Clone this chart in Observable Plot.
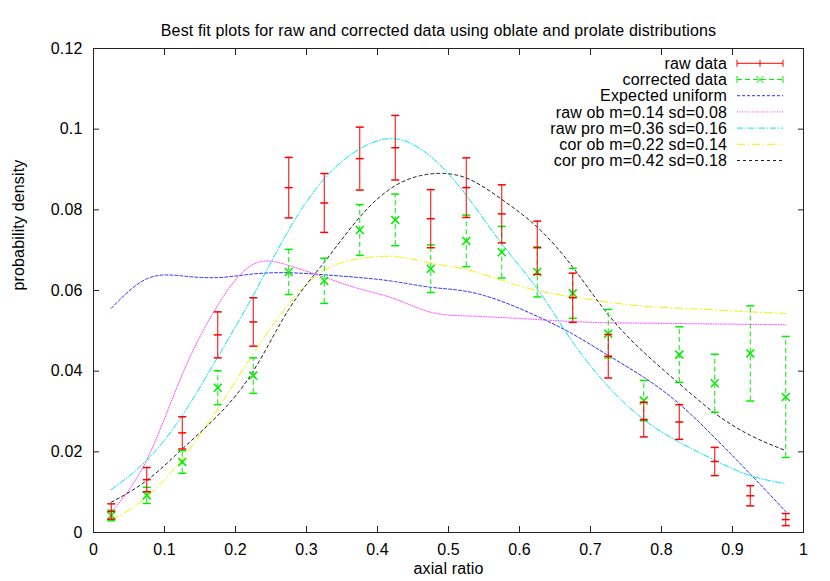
<!DOCTYPE html>
<html><head><meta charset="utf-8">
<script src="https://cdn.jsdelivr.net/npm/d3@7"></script>
<script src="https://cdn.jsdelivr.net/npm/@observablehq/plot@0.6"></script>
<style>
body{margin:0;background:#fff;}
#chart{position:relative;width:830px;height:581px;font-family:"Liberation Sans",Arial,sans-serif;}
#chart svg text{letter-spacing:0.15px;}
#chart svg.legend{position:absolute;left:0;top:0;pointer-events:none;}
</style></head><body><div id="chart"></div>
<script>
const titleText = "Best fit plots for raw and corrected data using oblate and prolate distributions";
const xLabel = "axial ratio";
const yLabel = "probability density";
const xTicks = [0, 0.1, 0.2, 0.3, 0.4, 0.5, 0.6, 0.7, 0.8, 0.9, 1];
const yTicks = [0, 0.02, 0.04, 0.06, 0.08, 0.1, 0.12];

const binCenters = [0.025, 0.075, 0.125, 0.175, 0.225, 0.275, 0.325, 0.375, 0.425, 0.475,
                    0.525, 0.575, 0.625, 0.675, 0.725, 0.775, 0.825, 0.875, 0.925, 0.975];

const rawData = [0.0052, 0.0131, 0.0247, 0.0490, 0.0522, 0.0855, 0.0817, 0.0927, 0.0954, 0.0778,
                 0.0855, 0.0790, 0.0706, 0.0582, 0.0437, 0.0280, 0.0274, 0.0176, 0.0091, 0.0032];
const rawErr  = [0.0019, 0.0030, 0.0040, 0.0057, 0.0060, 0.0075, 0.0073, 0.0078, 0.0080, 0.0072,
                 0.0074, 0.0072, 0.0066, 0.0061, 0.0054, 0.0043, 0.0043, 0.0035, 0.0025, 0.0015];
const corData = [0.0042, 0.0092, 0.0175, 0.0359, 0.0389, 0.0646, 0.0624, 0.0750, 0.0775, 0.0654,
                 0.0723, 0.0695, 0.0646, 0.0593, 0.0493, 0.0327, 0.0441, 0.0370, 0.0444, 0.0336];
const corErr  = [0.0013, 0.0020, 0.0028, 0.0042, 0.0044, 0.0056, 0.0056, 0.0063, 0.0064, 0.0059,
                 0.0064, 0.0064, 0.0062, 0.0062, 0.0060, 0.0050, 0.0069, 0.0072, 0.0118, 0.0150];

const expectedUniform = [0.0556, 0.0629, 0.0636, 0.0632, 0.0641, 0.0644, 0.0639, 0.0632, 0.0622, 0.0608,
                         0.0598, 0.0573, 0.0536, 0.0492, 0.0439, 0.0385, 0.0319, 0.0235, 0.0145, 0.0052];
const rawOb  = [0.0050, 0.0180, 0.0392, 0.0563, 0.0665, 0.0662, 0.0633, 0.0604, 0.0579, 0.0546,
                0.0537, 0.0533, 0.0528, 0.0523, 0.0520, 0.0519, 0.0518, 0.0517, 0.0516, 0.0515];
const rawPro = [0.0106, 0.0179, 0.0290, 0.0435, 0.0588, 0.0750, 0.0877, 0.0951, 0.0976, 0.0932,
                0.0836, 0.0716, 0.0604, 0.0472, 0.0362, 0.0280, 0.0224, 0.0179, 0.0141, 0.0121];
const corOb  = [0.0030, 0.0088, 0.0183, 0.0307, 0.0443, 0.0567, 0.0650, 0.0679, 0.0684, 0.0668,
                0.0652, 0.0625, 0.0600, 0.0584, 0.0571, 0.0561, 0.0556, 0.0552, 0.0547, 0.0543];
const corPro = [0.0075, 0.0129, 0.0207, 0.0290, 0.0400, 0.0553, 0.0670, 0.0782, 0.0860, 0.0889,
                0.0879, 0.0826, 0.0757, 0.0658, 0.0540, 0.0447, 0.0369, 0.0296, 0.0241, 0.0203];

const seriesNames = ["raw data", "corrected data", "Expected uniform",
  "raw ob m=0.14 sd=0.08", "raw pro m=0.36 sd=0.16", "cor ob m=0.22 sd=0.14", "cor pro m=0.42 sd=0.18"];

const rows = binCenters.map((x, i) => ({
  x, raw: rawData[i], rawLo: rawData[i] - rawErr[i], rawHi: rawData[i] + rawErr[i],
  cor: corData[i], corLo: corData[i] - corErr[i], corHi: corData[i] + corErr[i],
  uni: expectedUniform[i], rob: rawOb[i], rpro: rawPro[i], cob: corOb[i], cpro: corPro[i]
}));

const curves = [
  {key: "uni",  stroke: "#3030ff", dash: "3,2"},
  {key: "rob",  stroke: "#ff40ff", dash: "1,1.5"},
  {key: "rpro", stroke: "#00e8f0", dash: "6,2,1,2"},
  {key: "cob",  stroke: "#f2f200", dash: "8,3,1,3"},
  {key: "cpro", stroke: "#202020", dash: "3,3"}
];

const hbar = {draw(ctx, size) { const r = Math.sqrt(size / Math.PI); ctx.moveTo(-r, 0); ctx.lineTo(r, 0); }};
const fmt = d3.format("~g");
const FS = 16;

const plot = Plot.plot({
  width: 830, height: 581,
  marginLeft: 93, marginRight: 27, marginTop: 48, marginBottom: 49,
  style: {fontFamily: '"Liberation Sans", Arial, sans-serif', fontSize: FS + "px", background: "#fff"},
  x: {domain: [0, 1], label: null},
  y: {domain: [0, 0.12], label: null},
  marks: [
    ...curves.map(c => Plot.line(rows, {x: "x", y: c.key, stroke: c.stroke, strokeWidth: 1,
        strokeDasharray: c.dash, curve: "natural"})),
    Plot.ruleX(rows, {x: "x", y1: "corLo", y2: "corHi", stroke: "#00ee00", strokeDasharray: "5,3"}),
    Plot.dot(rows, {x: "x", y: "corLo", symbol: hbar, r: 4, stroke: "#00ee00", fill: "none"}),
    Plot.dot(rows, {x: "x", y: "corHi", symbol: hbar, r: 4, stroke: "#00ee00", fill: "none"}),
    Plot.dot(rows, {x: "x", y: "cor", symbol: "times", r: 3.7, stroke: "#00ee00", fill: "none"}),
    Plot.ruleX(rows, {x: "x", y1: "rawLo", y2: "rawHi", stroke: "#ff0000"}),
    Plot.dot(rows, {x: "x", y: "rawLo", symbol: hbar, r: 4, stroke: "#ff0000", fill: "none"}),
    Plot.dot(rows, {x: "x", y: "rawHi", symbol: hbar, r: 4, stroke: "#ff0000", fill: "none"}),
    Plot.dot(rows, {x: "x", y: "raw", symbol: hbar, r: 4, stroke: "#ff0000", fill: "none"}),
    Plot.frame({stroke: "#222"}),
    Plot.axisX(xTicks, {anchor: "bottom", tickSize: -6, tickPadding: 17, tickFormat: fmt, stroke: "#222", fill: "#000", fontSize: FS, label: null}),
    Plot.axisX(xTicks, {anchor: "top", tickSize: -6, tickFormat: () => "", stroke: "#222", label: null}),
    Plot.axisY(yTicks, {anchor: "left", tickSize: -6, tickPadding: 17, tickFormat: fmt, stroke: "#222", fill: "#000", fontSize: FS, label: null}),
    Plot.axisY(yTicks, {anchor: "right", tickSize: -6, tickFormat: () => "", stroke: "#222", label: null}),
    Plot.text([titleText], {frameAnchor: "top", dx: -10, dy: -24, fontSize: FS, fill: "#000"}),
    Plot.text([xLabel], {frameAnchor: "bottom", dy: 41, fontSize: FS, fill: "#000"}),
    Plot.text([yLabel], {frameAnchor: "left", dx: -75, rotate: -90, fontSize: FS, fill: "#000"})
  ]
});

const chart = document.getElementById("chart");
chart.appendChild(plot);

// legend overlay
const leg = d3.select(chart).append("svg").attr("class", "legend")
  .attr("width", 830).attr("height", 581)
  .style("font-family", '"Liberation Sans", Arial, sans-serif').style("font-size", FS + "px");
const lx = 727, sx1 = 737, sx2 = 783, ly0 = 63.3, lstep = 16.2;
const sampleStyles = [
  {stroke: "#ff0000", dash: null, kind: "raw"},
  {stroke: "#00ee00", dash: "5,3", kind: "cor"},
  ...curves.map(c => ({stroke: c.stroke, dash: c.dash, kind: "line"}))
];
seriesNames.forEach((name, i) => {
  const y = ly0 + i * lstep;
  leg.append("text").attr("x", lx).attr("y", y).attr("dy", "0.35em")
    .attr("text-anchor", "end").attr("fill", "#000").text(name);
  const s = sampleStyles[i];
  const g = leg.append("g").attr("stroke", s.stroke).attr("fill", "none");
  g.append("line").attr("x1", sx1).attr("x2", sx2).attr("y1", y).attr("y2", y)
    .attr("stroke-dasharray", s.dash);
  if (s.kind !== "line") {
    [sx1, sx2].forEach(x => g.append("line").attr("x1", x).attr("x2", x).attr("y1", y - 3.5).attr("y2", y + 3.5));
    const mx = (sx1 + sx2) / 2;
    if (s.kind === "raw") g.append("line").attr("x1", mx).attr("x2", mx).attr("y1", y - 3.5).attr("y2", y + 3.5);
    else g.append("path").attr("d", `M${mx-3.5},${y-3.5}L${mx+3.5},${y+3.5}M${mx-3.5},${y+3.5}L${mx+3.5},${y-3.5}`);
  }
});
</script>
</body></html>
